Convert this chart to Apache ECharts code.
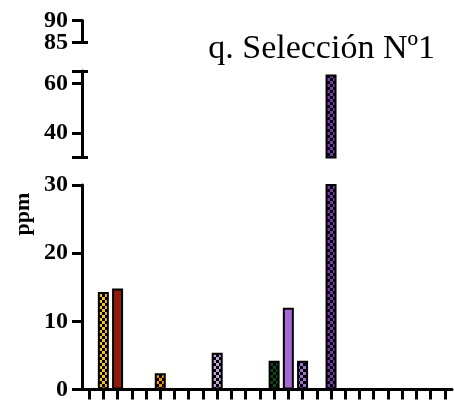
<!DOCTYPE html>
<html><head><meta charset="utf-8">
<script src="https://cdn.jsdelivr.net/npm/echarts@6/dist/echarts.min.js"></script>
<style>html,body{margin:0;padding:0;background:#fff}#c{width:454px;height:406px}</style>
</head><body><div id="c"></div>
<script>
const categories = ['1','2','3','4','5','6','7','8','9','10','11','12','13','14','15','16','17','18','19','20','21','22','23','24','25','26'];
const values = [null, 14.3, 14.8, null, null, 2.4, null, null, null, 5.4, null, null, null, 4.2, 12.0, 4.2, null, 63.6, null, null, null, null, null, null, null, null];
const fillColors = [null, '#F7C21E', '#921C0C', null, null, '#F29A00', null, null, null, '#C4A3DD', null, null, null, '#0E4A12', '#A56AD4', '#A36CD6', null, '#7A35B0', null, null, null, null, null, null, null, null];
const checkered = [false, true, false, false, false, true, false, false, false, true, false, false, false, true, false, true, false, true, false, false, false, false, false, false, false, false];
const lowerTicks = [0, 10, 20, 30];
const middleTicks = [30, 40, 60, 65];
const middleLabels = [40, 60];
const upperTicks = [85, 90];
const upperLabelTop = [90];
const upperLabelBottom = [85];
const titleText = 'q. Selección Nº1';
const yName = 'ppm';

function checker(color) {
  const cv = document.createElement('canvas');
  cv.width = 6; cv.height = 6;
  const g = cv.getContext('2d');
  g.fillStyle = color; g.fillRect(0, 0, 6, 6);
  g.fillStyle = '#000';
  g.fillRect(0, 0, 3, 3); g.fillRect(3, 3, 3, 3);
  return cv;
}

const barData = values.map((v, i) => {
  if (v === null) return null;
  return {
    value: v,
    itemStyle: {
      color: checkered[i] ? { image: checker(fillColors[i]), repeat: 'repeat' } : fillColors[i]
    }
  };
});

const font = { fontFamily: 'Liberation Serif', fontWeight: 'bold', fontSize: 24, color: '#000' };
const L = 82, R = 2;
const grids = [
  { left: L, right: R, top: 185, height: 204.5 },
  { left: L, right: R, top: 71, height: 86.5 },
  { left: L, right: R, top: 20.5, height: 22 }
];

const xAxes = [0, 1, 2].map(gi => ({
  type: 'category', gridIndex: gi, data: categories,
  show: gi === 0,
  axisLine: { show: true, lineStyle: { color: '#000', width: 3 } },
  axisTick: { show: true, alignWithLabel: true, interval: 0, length: 10, lineStyle: { color: '#000', width: 3 } },
  axisLabel: { show: false },
  splitLine: { show: false }
}));

function yAx(gi, min, max, ticks, labels) {
  return {
    type: 'value', gridIndex: gi, min: min, max: max, position: 'left',
    axisLine: { show: true, lineStyle: { color: '#000', width: 3 } },
    axisTick: { show: true, length: 10, customValues: ticks, lineStyle: { color: '#000', width: 3 } },
    axisLabel: Object.assign({ show: true, margin: 14, customValues: labels, hideOverlap: false }, font),
    splitLine: { show: false }
  };
}
function capAx(gi, min, max, caps, labels) {
  return {
    type: 'value', gridIndex: gi, min: min, max: max, position: 'left',
    axisLine: { show: false },
    axisTick: { show: true, inside: true, length: 6, customValues: caps, lineStyle: { color: '#000', width: 3 } },
    axisLabel: labels ? Object.assign({ show: true, margin: 14, customValues: labels, hideOverlap: false }, font) : { show: false },
    splitLine: { show: false }
  };
}

const yAxes = [
  yAx(0, 0, 30, lowerTicks, lowerTicks),
  yAx(1, 30, 65, middleTicks, middleLabels),
  yAx(2, 85, 90, upperTicks, upperLabelTop),
  capAx(1, 30, 65, [30, 65], null),
  capAx(2, 85, 90, [85], upperLabelBottom)
];

const series = [0, 1].map(gi => ({
  type: 'bar', xAxisIndex: gi, yAxisIndex: gi,
  data: barData, barWidth: 11, clip: true,
  itemStyle: { borderColor: '#000', borderWidth: 2 },
  silent: true, animation: false
}));

const chart = echarts.init(document.getElementById('c'), null, { renderer: 'canvas' });
chart.setOption({
  animation: false,
  title: { text: titleText, right: 14, top: 27, textStyle: { fontFamily: 'Liberation Serif', fontWeight: 'normal', fontSize: 34, color: '#000' } },
  grid: grids,
  xAxis: xAxes,
  yAxis: yAxes,
  series: series,
  graphic: [{
    type: 'text', x: 23, y: 214, rotation: Math.PI / 2,
    style: { text: yName, font: 'bold 22px "Liberation Serif"', fill: '#000', textAlign: 'center', textVerticalAlign: 'middle' }
  }]
});
</script></body></html>
